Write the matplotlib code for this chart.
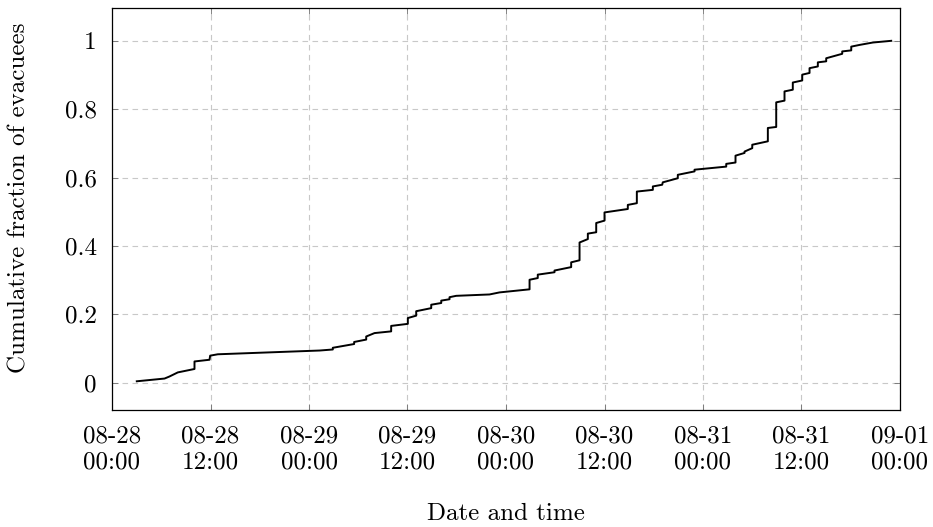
import matplotlib
matplotlib.use("Agg")
import matplotlib.pyplot as plt

plt.rcParams['font.family'] = 'serif'
plt.rcParams['font.serif'] = ['cmr10', 'DejaVu Serif']
plt.rcParams['axes.formatter.use_mathtext'] = True

# hours since 08-28 00:00
hours = [3.02, 6.40, 7.00, 8.02, 10.05, 10.05, 11.88, 11.96, 12.89, 25.3, 26.90, 26.90,
         29.5, 29.5, 30.97, 30.97, 31.98, 34.01, 34.01, 36.04, 36.04, 37.06, 37.06,
         38.89, 38.89, 40.11, 40.11, 41.12, 41.12, 41.93, 45.99, 47.21, 50.87, 50.87,
         51.87, 51.87,
         53.91, 53.91, 55.94, 55.94, 56.96, 56.96, 57.97, 57.97, 58.99, 58.99, 60.00,
         60.00, 62.84, 62.84, 63.94, 63.94, 65.89, 65.89, 67.03, 67.10, 68.93, 68.93,
         70.97, 70.97, 74.83, 74.83, 75.96, 75.96, 77.06, 77.06, 78.00, 78.00, 79.90,
         79.90, 80.92, 80.92, 81.93, 81.93, 82.94, 82.94, 84.09, 84.09, 84.98, 84.98,
         85.99, 85.99, 87.01, 87.01, 88.96, 88.96, 90.06, 90.06, 91.07, 92.69, 94.93]
fraction = [0.004, 0.012, 0.018, 0.030, 0.040, 0.062, 0.067, 0.079, 0.083, 0.094, 0.097, 0.102,
            0.113, 0.119, 0.126, 0.135, 0.145, 0.150, 0.166, 0.172, 0.189, 0.196, 0.209,
            0.218, 0.228, 0.233, 0.240, 0.244, 0.250, 0.254, 0.258, 0.264, 0.273, 0.301,
            0.306, 0.316,
            0.323, 0.328, 0.338, 0.352, 0.358, 0.410, 0.420, 0.436, 0.440, 0.467, 0.474,
            0.498, 0.508, 0.520, 0.525, 0.559, 0.564, 0.574, 0.579, 0.586, 0.598, 0.608,
            0.618, 0.623, 0.632, 0.640, 0.644, 0.664, 0.672, 0.676, 0.686, 0.696, 0.706,
            0.745, 0.748, 0.820, 0.825, 0.852, 0.857, 0.878, 0.884, 0.901, 0.906, 0.920,
            0.925, 0.937, 0.940, 0.949, 0.962, 0.969, 0.972, 0.983, 0.988, 0.995, 1.000]

xtick_pos = [0, 12, 24, 36, 48, 60, 72, 84, 96]
xtick_labels = ["08-28\n00:00", "08-28\n12:00", "08-29\n00:00", "08-29\n12:00",
                "08-30\n00:00", "08-30\n12:00", "08-31\n00:00", "08-31\n12:00",
                "09-01\n00:00"]
ytick_pos = [0, 0.2, 0.4, 0.6, 0.8, 1.0]
ytick_labels = ["0", "0.2", "0.4", "0.6", "0.8", "1"]

FS = 18

fig = plt.figure(figsize=(9.33, 5.27), dpi=100)
ax = fig.add_axes([112/933, 1-410/527, (900-112)/933, (410-8)/527])

ax.plot(hours, fraction, color='black', lw=1.4)

ax.set_xlim(0, 96)
ax.set_ylim(-0.08, 1.096)
ax.set_xticks(xtick_pos)
ax.set_xticklabels(xtick_labels, linespacing=1.25)
ax.set_yticks(ytick_pos)
ax.set_yticklabels(ytick_labels)
ax.grid(True, color='#c8c8c8', linestyle=(0, (5, 4)), linewidth=0.8)
ax.set_axisbelow(True)
ax.tick_params(direction='in', length=4, width=0.6, color='#707070',
               top=True, right=True, labelsize=FS)
ax.tick_params(axis='x', pad=11)
ax.tick_params(axis='y', pad=11)
for s in ax.spines.values():
    s.set_linewidth(0.9)
ax.set_xlabel("Date and time", fontsize=FS, labelpad=21)
ax.set_ylabel("Cumulative fraction of evacuees", fontsize=FS)
ax.yaxis.set_label_coords(-0.103, 0.527)

fig.savefig("out.png", dpi=100)
